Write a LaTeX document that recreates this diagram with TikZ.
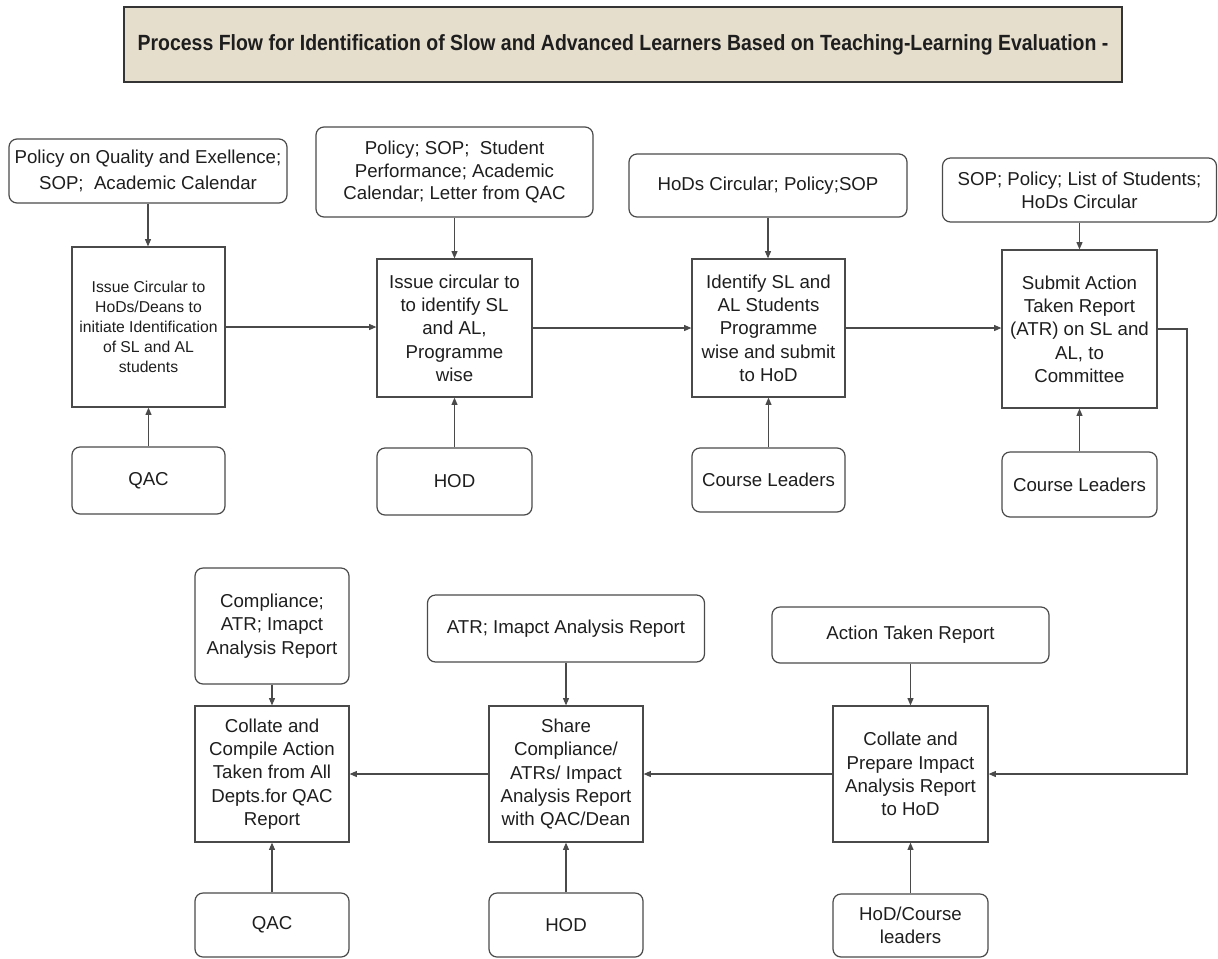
\documentclass[tikz,border=0pt]{standalone}
\usepackage{fontspec}
\usepackage{graphicx}
\setmainfont{Liberation Sans}
\usetikzlibrary{arrows.meta}
\definecolor{tfill}{HTML}{E6DECD}
\definecolor{ln}{HTML}{4A4A4A}
\definecolor{txt}{HTML}{1E1E1E}
\tikzset{
 sz/.style 2 args={minimum width=#1*0.75pt, minimum height=#2*0.75pt},
 base/.style={draw=ln, line width=0.9pt, text=txt, align=center, inner sep=0pt, font=\fontsize{14pt}{17.5pt}\selectfont},
 inbox/.style={base, rounded corners=6pt},
 procbox/.style={base},
 srcbox/.style={base, rounded corners=6pt},
 arr/.style={draw=ln, line width=0.85pt, -{Triangle[length=5.5pt,width=4.5pt]}},
}
\begin{document}
\begin{tikzpicture}[x=0.75pt,y=-0.75pt]
\useasboundingbox (0,0) rectangle (1218,958);
% title
\node[draw=ln!70!black, line width=1.6pt, fill=tfill, sz={998}{75}, inner sep=0pt] (title) at (623,44.5)
 {\resizebox{728pt}{\height}{\fontsize{16.5pt}{19pt}\selectfont\bfseries\color{txt}Process Flow for Identification of Slow and Advanced Learners Based on Teaching-Learning Evaluation -}};
% row 1
\node[inbox, sz={278}{64}, font=\fontsize{14pt}{19.5pt}\selectfont] (i1) at (148,171) {Policy on Quality and Exellence;\\SOP;\ \ Academic Calendar};
\node[procbox, sz={153}{160}, font=\fontsize{11.8pt}{15pt}\selectfont] (p1) at (148.5,327) {Issue Circular to\\HoDs/Deans to\\initiate Identification\\of SL and AL\\students};
\node[srcbox, sz={153}{67}] (s1) at (148.5,480.5) {QAC};

\node[inbox, sz={277}{90}, font=\fontsize{14pt}{16.8pt}\selectfont] (i2) at (454.5,172) {Policy; SOP;\ \ Student\\Performance; Academic\\Calendar; Letter from QAC};
\node[procbox, sz={155}{138}] (p2) at (454.5,328) {Issue circular to\\to identify SL\\and AL,\\Programme\\wise};
\node[srcbox, sz={155}{67}] (s2) at (454.5,481.5) {HOD};

\node[inbox, sz={278}{63}] (i3) at (768,185.5) {HoDs Circular; Policy;SOP};
\node[procbox, sz={153}{138}] (p3) at (768.5,328) {Identify SL and\\AL Students\\Programme\\wise and submit\\to HoD};
\node[srcbox, sz={153}{64}] (s3) at (768.5,480) {Course Leaders};

\node[inbox, sz={274}{64}] (i4) at (1079.5,190) {SOP; Policy; List of Students;\\HoDs Circular};
\node[procbox, sz={155}{158}] (p4) at (1079.5,329) {Submit Action\\Taken Report\\(ATR) on SL and\\AL, to\\Committee};
\node[srcbox, sz={155}{65}] (s4) at (1079.5,484.5) {Course Leaders};

% row 2
\node[inbox, sz={154}{116}] (iA) at (272,626) {Compliance;\\ATR; Imapct\\Analysis Report};
\node[procbox, sz={154}{136}] (pA) at (272,774) {Collate and\\Compile Action\\Taken from All\\Depts.for QAC\\Report};
\node[srcbox, sz={154}{64}] (sA) at (272,925) {QAC};

\node[inbox, sz={277}{67}] (iB) at (566,628.5) {ATR; Imapct Analysis Report};
\node[procbox, sz={154}{136}] (pB) at (566,774) {Share\\Compliance/\\ATRs/ Impact\\Analysis Report\\with QAC/Dean};
\node[srcbox, sz={154}{64}] (sB) at (566,925) {HOD};

\node[inbox, sz={277}{56}] (iC) at (910.5,635) {Action Taken Report};
\node[procbox, sz={155}{136}] (pC) at (910.5,774) {Collate and\\Prepare Impact\\Analysis Report\\to HoD};
\node[srcbox, sz={155}{63}] (sC) at (910.5,925.5) {HoD/Course\\leaders};

% vertical arrows
\foreach \a/\b in {i1/p1,i2/p2,i3/p3,i4/p4,iA/pA,iB/pB,iC/pC}
  \draw[arr] (\a.south) -- (\a.south |- \b.north);
\foreach \a/\b in {s1/p1,s2/p2,s3/p3,s4/p4,sA/pA,sB/pB,sC/pC}
  \draw[arr] (\a.north) -- (\a.north |- \b.south);
% horizontal arrows
\draw[arr] (p1.east) -- (p1.east -| p2.west);
\draw[arr] (p2.east) -- (p2.east -| p3.west);
\draw[arr] (p3.east) -- (p3.east -| p4.west);
\coordinate (turn) at (1187,0);
\draw[arr] (p4.east) -| (turn |- pC.east) -- (pC.east);
\draw[arr] (pC.west) -- (pC.west -| pB.east);
\draw[arr] (pB.west) -- (pB.west -| pA.east);
\end{tikzpicture}
\end{document}
